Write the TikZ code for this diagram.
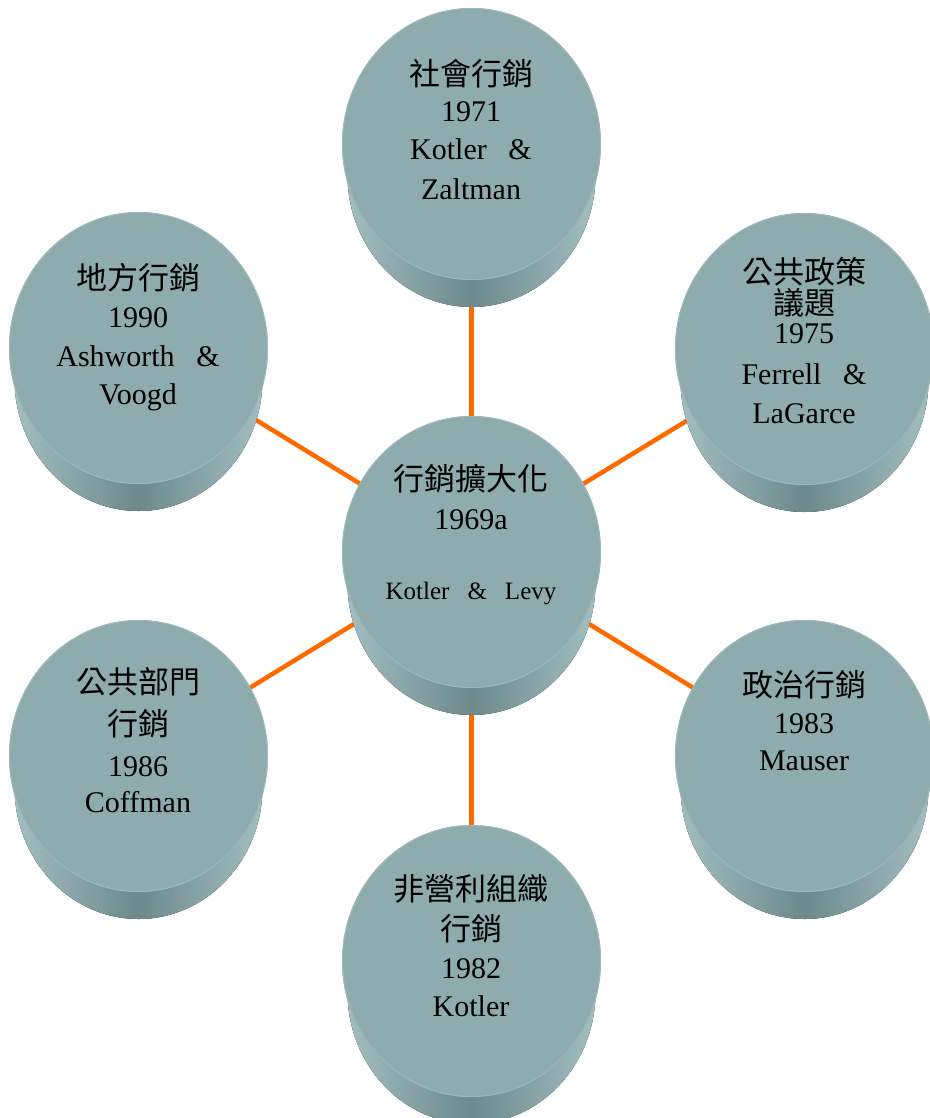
\documentclass[tikz,border=0pt]{standalone}
\usepackage{fontspec}
\setmainfont{Liberation Serif}
\newfontfamily\cjk{Noto Sans CJK TC}
\definecolor{facec}{HTML}{8EACAE}
\definecolor{rimc}{HTML}{9DB9BB}
\definecolor{sidelt}{HTML}{A2BEC0}
\definecolor{sidedk}{HTML}{6E898B}
\definecolor{linkc}{HTML}{FF6A00}
\tikzset{
  link/.style={draw=linkc,line width=4.5pt},
  lat/.style={font=\fontsize{30}{36}\selectfont,anchor=base,inner sep=0pt},
  han/.style={font=\cjk\fontsize{31}{36}\selectfont,anchor=base,inner sep=0pt},
  sml/.style={font=\fontsize{25}{30}\selectfont,anchor=base,inner sep=0pt},
  sidefill/.style={left color=sidelt,right color=sidelt,middle color=sidedk},
  facefill/.style={fill=facec},
  rimline/.style={draw=rimc,line width=0.9pt},
}
\newcommand\mydisc[1]{%
  \fill[sidefill] ([yshift=-31pt]#1) ellipse [x radius=124pt,y radius=132pt];
  \fill[facefill] (#1) ellipse [x radius=129.5pt,y radius=136pt];
  \draw[rimline] (#1) ellipse [x radius=129pt,y radius=135.5pt];
}
\newcommand\gap{\hspace{0.72em}}
\begin{document}
\begin{tikzpicture}[x=1pt,y=-1pt]
\useasboundingbox (0,0) rectangle (929,1118);
\fill[white] (0,0) rectangle (929,1118);
% centres of the top faces
\coordinate (cc) at (471.5,552);
\coordinate (ct) at (471.5,144);
\coordinate (cul) at (138.5,348);
\coordinate (cur) at (804.5,349);
\coordinate (cll) at (138.5,756);
\coordinate (clr) at (804.5,756);
\coordinate (cb) at (471.5,961);
% connectors
\draw[link] (cc) -- (ct);
\draw[link] (cc) -- (cul);
\draw[link] (cc) -- (cur);
\draw[link] (cc) -- (cll);
\draw[link] (cc) -- (clr);
\draw[link] (cc) -- (cb);
% discs
\mydisc{ct}
\mydisc{cul}
\mydisc{cur}
\mydisc{cll}
\mydisc{clr}
\mydisc{cb}
\mydisc{cc}
% texts: top
\node[han] (t1) at (471,86) {社會行銷};
\node[lat] (t2) at (471,122) {1971};
\node[lat] (t3) at (471,160) {Kotler\gap\&};
\node[lat] (t4) at (471,199) {Zaltman};
% upper left
\node[han] (ul1) at (138,289) {地方行銷};
\node[lat] (ul2) at (138,327) {1990};
\node[lat] (ul3) at (138,366) {Ashworth\gap\&};
\node[lat] (ul4) at (138,404) {Voogd};
% upper right
\node[han] (ur1) at (804,283) {公共政策};
\node[han] (ur2) at (804,314) {議題};
\node[lat] (ur3) at (804,343) {1975};
\node[lat] (ur4) at (804,384) {Ferrell\gap\&};
\node[lat] (ur5) at (804,423) {LaGarce};
% centre
\node[han] (c1) at (471,490) {行銷擴大化};
\node[lat] (c2) at (471,529) {1969a};
\node[sml] (c3) at (471,599) {Kotler\gap\&\gap Levy};
% lower left
\node[han] (ll1) at (138,693) {公共部門};
\node[han] (ll2) at (138,735) {行銷};
\node[lat] (ll3) at (138,776) {1986};
\node[lat] (ll4) at (138,812) {Coffman};
% lower right
\node[han] (lr1) at (804,696) {政治行銷};
\node[lat] (lr2) at (804,733) {1983};
\node[lat] (lr3) at (804,770) {Mauser};
% bottom
\node[han] (b1) at (471,900) {非營利組織};
\node[han] (b2) at (471,940) {行銷};
\node[lat] (b3) at (471,978) {1982};
\node[lat] (b4) at (471,1016) {Kotler};
\end{tikzpicture}
\end{document}
